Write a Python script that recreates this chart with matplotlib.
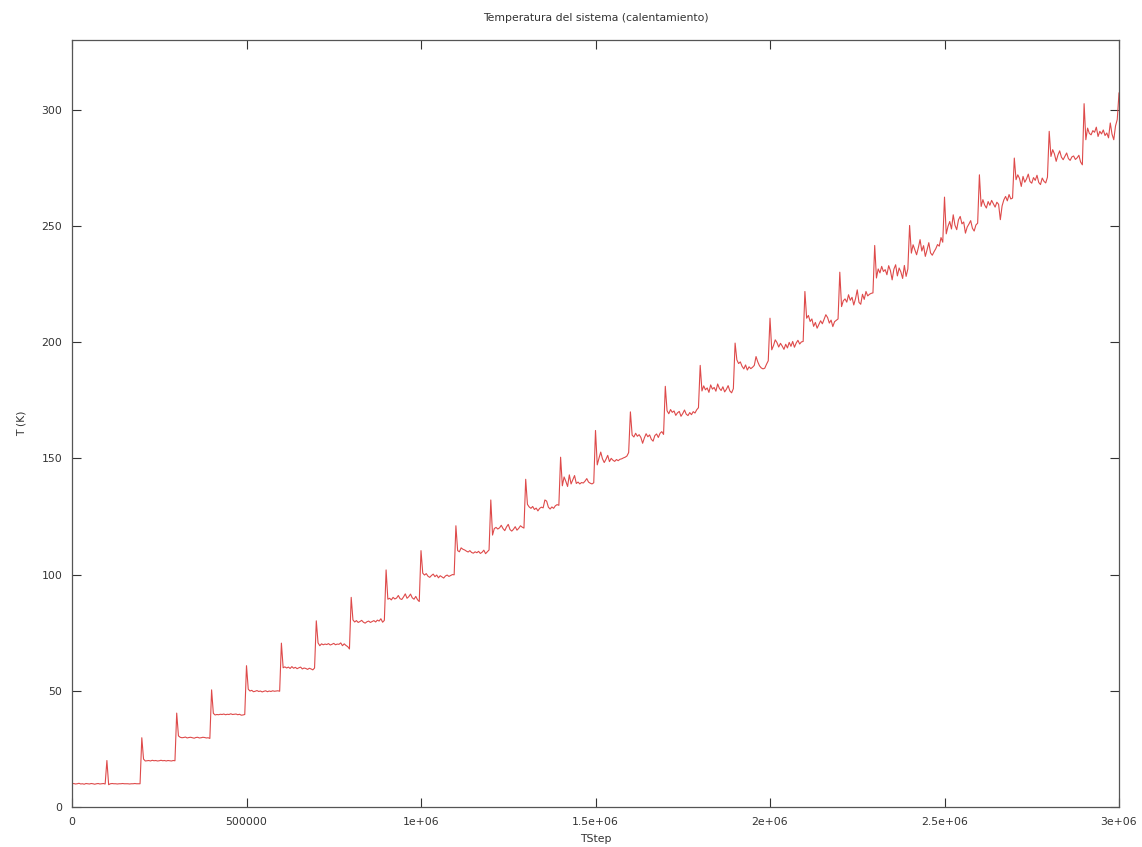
import matplotlib
matplotlib.use("Agg")
import matplotlib.pyplot as plt
import numpy as np

# Temperature, one list per 100000-step stage,
# sampled every 5000 steps (first value of each stage is the heating spike)
stage_temps = [
    [10.0, 10.1, 9.9, 10.0, 10.2, 9.9, 10.0, 9.8, 10.1, 10.0, 9.9, 10.1, 10.0, 9.8, 10.0, 10.1, 9.9, 10.0, 10.1, 9.9],
    [20.0, 9.6, 10.0, 10.1, 10.0, 10.0, 9.9, 10.0, 10.0, 10.1, 10.0, 10.0, 10.0, 9.9, 10.0, 10.0, 10.1, 10.0, 10.0, 10.0],
    [29.8, 20.6, 19.8, 19.9, 20.0, 19.8, 20.1, 19.9, 20.0, 19.8, 19.9, 20.1, 19.9, 20.0, 19.8, 20.0, 19.9, 19.8, 20.0, 19.9],
    [40.4, 30.6, 30.0, 29.8, 29.9, 30.1, 29.7, 29.9, 30.0, 29.8, 29.6, 29.9, 30.0, 29.7, 29.8, 30.0, 29.9, 29.7, 29.8, 29.5],
    [50.4, 40.3, 39.6, 39.8, 39.7, 39.9, 39.8, 40.0, 39.7, 39.9, 39.8, 40.1, 39.8, 39.9, 40.0, 39.7, 39.9, 39.5, 39.6, 39.8],
    [60.8, 50.7, 49.9, 50.2, 49.6, 49.8, 50.1, 49.7, 49.9, 49.5, 49.8, 50.0, 49.6, 49.9, 49.7, 50.0, 49.8, 49.9, 50.0, 49.8],
    [70.5, 59.9, 60.3, 59.8, 60.2, 59.6, 60.4, 59.7, 60.1, 59.5, 59.9, 60.2, 59.4, 59.8, 59.6, 59.2, 59.7, 59.4, 59.0, 59.8],
    [80.1, 70.6, 69.4, 70.2, 69.8, 70.1, 69.9, 70.3, 69.7, 70.0, 70.4, 69.8, 70.1, 70.0, 70.6, 69.4, 70.2, 69.5, 69.0, 68.0],
    [90.2, 80.5, 79.6, 80.2, 79.4, 79.8, 80.3, 79.5, 79.1, 79.7, 80.0, 79.4, 79.8, 80.2, 79.6, 80.4, 80.0, 81.0, 79.5, 80.3],
    [102.0, 89.4, 89.8, 89.1, 90.2, 89.5, 89.9, 91.0, 89.6, 89.3, 90.4, 91.7, 89.8, 90.5, 91.6, 90.0, 89.4, 90.6, 89.2, 88.4],
    [110.3, 100.6, 99.8, 100.4, 99.3, 98.8, 99.6, 100.2, 99.1, 99.8, 98.6, 99.5, 99.0, 98.5, 99.4, 99.8, 99.2, 99.6, 100.0, 99.9],
    [121.0, 110.3, 109.8, 111.5, 110.9, 110.6, 110.1, 109.7, 110.3, 109.5, 109.2, 109.8, 109.4, 110.0, 109.1, 109.6, 110.5, 109.0, 109.8, 110.6],
    [132.1, 117.0, 119.8, 120.3, 119.6, 120.1, 121.2, 119.8, 118.9, 120.5, 121.6, 119.4, 118.7, 119.5, 120.6, 119.1, 119.9, 121.0, 120.4, 120.0],
    [141.0, 130.2, 129.1, 128.5, 129.3, 128.0, 128.6, 127.4, 128.5, 129.0, 128.7, 132.1, 131.6, 129.0, 128.2, 129.1, 128.5, 129.6, 130.1, 129.8],
    [150.5, 138.2, 142.0, 140.1, 137.9, 142.9, 139.0, 140.8, 142.6, 139.2, 139.8, 139.0, 139.6, 139.4, 140.2, 141.3, 139.8, 139.3, 139.0, 139.5],
    [162.0, 147.2, 150.1, 152.7, 149.8, 148.2, 149.6, 151.3, 148.6, 150.0, 149.2, 148.7, 149.5, 149.0, 149.6, 149.8, 150.2, 150.5, 151.0, 152.5],
    [170.0, 160.0, 159.2, 160.8, 159.5, 160.2, 159.0, 156.5, 158.8, 160.6, 159.3, 160.1, 158.2, 157.4, 159.8, 160.5, 159.0, 160.8, 161.5, 160.3],
    [181.0, 170.5, 169.2, 171.0, 169.8, 170.4, 168.5, 169.6, 170.2, 168.1, 169.3, 170.8, 169.0, 168.4, 169.7, 168.8, 170.1, 169.5, 170.9, 171.8],
    [190.0, 179.0, 181.2, 179.5, 180.3, 178.4, 181.6, 179.8, 180.5, 178.9, 182.0, 180.1, 179.2, 180.8, 178.6, 179.7, 181.3, 179.0, 178.2, 180.0],
    [199.6, 192.4, 190.8, 191.5, 189.6, 188.5, 190.2, 188.0, 189.4, 188.6, 189.2, 190.0, 193.8, 191.5, 189.8, 188.9, 188.5, 188.8, 190.5, 192.0],
    [210.3, 196.7, 198.5, 201.0, 199.8, 197.9, 199.5, 198.3, 196.9, 199.1, 197.5, 199.9, 198.2, 200.3, 197.8, 199.6, 200.8, 199.2, 200.1, 200.3],
    [221.8, 210.3, 211.5, 208.9, 210.0, 206.8, 208.5, 206.0, 207.6, 209.2, 207.9, 209.8, 211.8, 210.6, 208.2, 209.5, 206.7, 208.8, 209.4, 210.0],
    [230.1, 215.3, 217.8, 218.6, 217.2, 220.4, 218.0, 219.3, 216.0, 218.7, 222.5, 217.1, 216.3, 220.6, 218.4, 221.8, 219.9, 220.6, 221.0, 221.2],
    [241.6, 227.6, 231.5, 229.8, 232.6, 230.4, 231.2, 229.0, 232.9, 230.8, 226.8, 231.4, 233.3, 228.5, 231.9, 230.2, 227.4, 233.0, 228.3, 231.5],
    [250.2, 238.3, 241.9, 239.8, 237.6, 240.6, 244.1, 239.2, 241.5, 236.9, 239.7, 242.8, 238.4, 237.4, 238.9, 240.2, 242.0, 241.3, 245.0, 243.0],
    [262.4, 246.6, 249.8, 251.9, 248.7, 254.8, 250.3, 248.4, 252.6, 254.1, 250.9, 251.7, 246.9, 249.5, 250.8, 252.3, 249.0, 247.8, 250.4, 251.2],
    [272.0, 258.4, 261.3, 259.0, 257.7, 260.5, 258.9, 261.0, 259.6, 258.1, 260.2, 259.3, 252.7, 258.6, 261.2, 262.7, 260.8, 263.5, 261.6, 262.0],
    [279.2, 269.9, 272.0, 270.4, 267.0, 271.3, 268.8, 270.2, 272.3, 269.1, 268.4, 270.8, 269.6, 271.8, 268.7, 267.8, 270.6, 269.2, 268.5, 271.0],
    [290.7, 279.9, 282.8, 281.0, 277.8, 280.5, 282.3, 279.6, 278.5, 279.9, 281.4, 279.0, 278.2, 279.7, 280.1, 278.6, 279.3, 280.4, 277.5, 276.3],
    [302.6, 287.1, 292.1, 289.8, 289.2, 291.0, 290.3, 292.5, 288.5, 290.7, 289.6, 291.3, 288.9, 290.0, 287.9, 294.3, 289.5, 287.1, 293.0, 295.8],
]
final_temp = 307.2
sample_every = 5000

x_ticks = [0, 500000, 1000000, 1500000, 2000000, 2500000, 3000000]
x_labels = ["0", "500000", "1e+06", "1.5e+06", "2e+06", "2.5e+06", "3e+06"]
y_ticks = [0, 50, 100, 150, 200, 250, 300]

temps = np.array([t for stage in stage_temps for t in stage] + [final_temp])
tstep = np.arange(len(temps)) * sample_every

plt.rcParams['font.family'] = ['DejaVu Sans']
plt.rcParams['font.size'] = 7.8
text_col = "#333333"

fig = plt.figure(figsize=(11.42, 8.47), dpi=100)
ax = fig.add_axes([72 / 1142, 40 / 847, (1119 - 72) / 1142, (807 - 40) / 847])

ax.plot(tstep, temps, color="#de4a4a", linewidth=0.8)

ax.set_xlim(0, 3000000)
ax.set_ylim(0, 330)
ax.set_xticks(x_ticks)
ax.set_xticklabels(x_labels)
ax.set_yticks(y_ticks)

ax.tick_params(direction="in", length=6.5, width=0.8, color="#333333",
               top=True, right=True, labelcolor=text_col, pad=7)
for s in ax.spines.values():
    s.set_color("#555555")
    s.set_linewidth(0.9)

ax.set_title("Temperatura del sistema (calentamiento)", color=text_col,
             fontsize=7.8, pad=14)
ax.set_xlabel("TStep", color=text_col, labelpad=5)
ax.set_ylabel("T (K)", color=text_col, labelpad=11)

fig.savefig("out.png", dpi=100)
